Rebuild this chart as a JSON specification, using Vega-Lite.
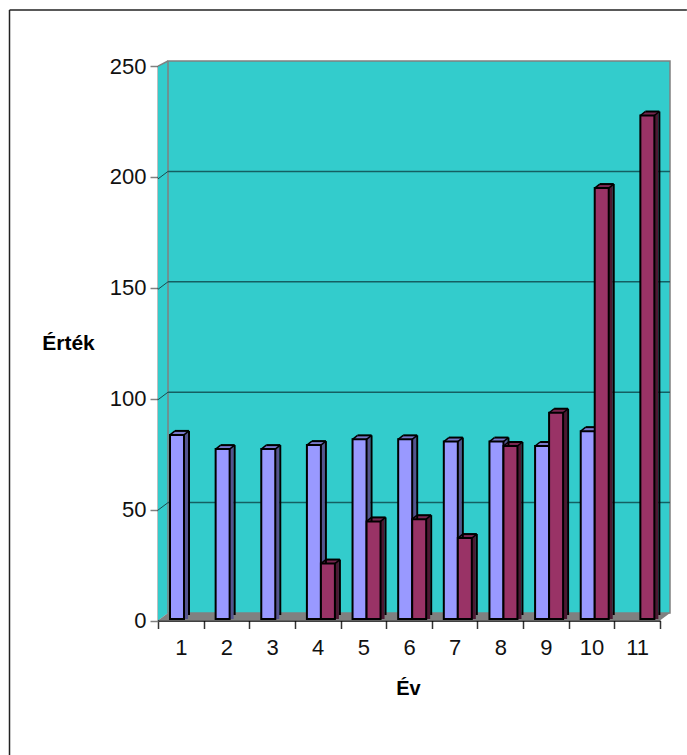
{"$schema":"https://vega.github.io/schema/vega-lite/v6.json","width":512,"height":559.5,"autosize":{"type":"none"},"padding":{"left":158,"top":61,"right":17,"bottom":134.5},"background":"#ffffff","view":{"stroke":null},"config":{"font":"Liberation Sans"},
"datasets":{"bars":[{"year":1,"series":"A","value":83},{"year":2,"series":"A","value":76.6},{"year":3,"series":"A","value":76.6},{"year":4,"series":"A","value":78.4},{"year":5,"series":"A","value":81},{"year":6,"series":"A","value":81},{"year":7,"series":"A","value":80},{"year":8,"series":"A","value":80},{"year":9,"series":"A","value":78},{"year":10,"series":"A","value":84.7},{"year":4,"series":"B","value":25},{"year":5,"series":"B","value":44},{"year":6,"series":"B","value":45},{"year":7,"series":"B","value":36.5},{"year":8,"series":"B","value":78},{"year":9,"series":"B","value":93},{"year":10,"series":"B","value":194.3},{"year":11,"series":"B","value":227}],
"walls":[{"x":-0.219,"lo":-3.4,"hi":247.7},{"x":0,"lo":0,"hi":250}],
"floor":[{"x":-0.219,"lo":-3.4,"hi":-3.4},{"x":0,"lo":-3.4,"hi":0},{"x":10.78,"lo":-3.4,"hi":0},{"x":11,"lo":0,"hi":0}],
"grid":[{"t":50,"x":0,"x2":11},{"t":100,"x":0,"x2":11},{"t":150,"x":0,"x2":11},{"t":200,"x":0,"x2":11}],
"diag":[{"t":50,"x":-0.219,"x2":0},{"t":100,"x":-0.219,"x2":0},{"t":150,"x":-0.219,"x2":0},{"t":200,"x":-0.219,"x2":0}]},
"data":{"name":"bars"},
"resolve":{"scale":{"x":"independent","y":"independent"},"axis":{"x":"independent","y":"independent"}},
"layer":[
{"encoding":{"x":{"field":"x","type":"quantitative","axis":null,"scale":{"domain":[0,11],"range":[10,512],"zero":false,"nice":false}},"y":{"field":"hi","type":"quantitative","axis":null,"scale":{"domain":[0,250],"range":[552,0],"zero":false,"nice":false}}},
"layer":[
{"data":{"values":[{"x":-3.473,"x2":11.37,"y":273.1,"y2":-64.3}]},"mark":{"type":"rule","stroke":"#222222","strokeWidth":1.5,"clip":false},"encoding":{"x2":{"field":"x2"},"y":{"field":"y","type":"quantitative"},"y2":{"field":"y"}}},
{"data":{"values":[{"x":-3.473,"x2":11.37,"y":273.1,"y2":-64.3}]},"mark":{"type":"rule","stroke":"#222222","strokeWidth":1.5,"clip":false},"encoding":{"y":{"field":"y","type":"quantitative"},"y2":{"field":"y2"}}},
{"data":{"name":"walls"},"mark":{"type":"area","fill":"#33CCCC","orient":"vertical"},"encoding":{"y2":{"field":"lo"}}},
{"data":{"values":[{"x":0,"x2":11,"lo":0,"hi":250}]},"mark":{"type":"rect","fill":"#33CCCC","stroke":"#808080","strokeWidth":1.5},"encoding":{"x2":{"field":"x2"},"y2":{"field":"lo"}}},
{"data":{"name":"walls"},"mark":{"type":"line","stroke":"#808080","strokeWidth":1.5},"encoding":{"order":{"field":"x"}}},
{"data":{"name":"floor"},"mark":{"type":"area","fill":"#808080","orient":"vertical"},"encoding":{"y2":{"field":"lo"}}},
{"data":{"name":"grid"},"mark":{"type":"rule","stroke":"#145F62","strokeWidth":1.5},"encoding":{"x2":{"field":"x2"},"y":{"field":"t","type":"quantitative"},"y2":{"field":"t"}}},
{"data":{"name":"diag"},"mark":{"type":"rule","stroke":"#1A4B4E","strokeWidth":1,"yOffset":7.5},"encoding":{"x2":{"field":"x2"},"y":{"field":"t","type":"quantitative"},"y2":{"field":"t"}}}
]},
{"mark":{"type":"point","opacity":0},"encoding":{"x":{"field":"year","type":"ordinal","title":"Év","scale":{"domain":[1,2,3,4,5,6,7,8,9,10,11],"range":[0,502],"paddingInner":0,"paddingOuter":0},"axis":{"tickBand":"extent","labelAngle":0,"labelFontSize":22,"labelColor":"#111111","labelPadding":9,"tickSize":8,"tickColor":"#333333","tickWidth":1.5,"domainColor":"#000000","domainWidth":1.5,"titleFontSize":20,"titleFontWeight":"bold","titleColor":"#000000","titleX":250,"titleY":68,"titleBaseline":"middle","titleAlign":"center","grid":false}},"y":{"field":"value","type":"quantitative","title":"Érték","scale":{"domain":[0,250],"range":[559.5,5],"nice":false},"axis":{"values":[0,50,100,150,200,250],"labelFontSize":22,"labelColor":"#111111","labelPadding":4,"tickSize":8,"tickColor":"#808080","tickWidth":1.5,"domainColor":"#000000","domainWidth":1.5,"titleFontSize":21,"titleFontWeight":"bold","titleColor":"#000000","titleAngle":0,"titleX":-90,"titleY":282,"titleBaseline":"middle","titleAlign":"center","grid":false}}}},
{"encoding":{"x":{"field":"year","type":"quantitative","axis":null,"scale":{"domain":[0.5,11.5],"range":[0,502],"nice":false,"zero":false,"padding":0}},"y":{"field":"value","type":"quantitative","axis":null,"stack":null,"scale":{"domain":[0,250],"range":[558,3.5],"nice":false}}},
"layer":[
{"mark":{"type":"bar","orient":"vertical","width":14,"xOffset":{"expr":"(datum.series==='A'?-3.82:10.18)+4"},"yOffset":-3.2,"y2Offset":-3.2},"encoding":{"color":{"condition":{"test":"datum.series==='A'","value":"#55558F"},"value":"#4D1933"}}},
{"mark":{"type":"bar","orient":"vertical","width":14,"xOffset":{"expr":"(datum.series==='A'?-3.82:10.18)+3"},"yOffset":-2.4,"y2Offset":-2.4},"encoding":{"color":{"condition":{"test":"datum.series==='A'","value":"#55558F"},"value":"#4D1933"}}},
{"mark":{"type":"bar","orient":"vertical","width":14,"xOffset":{"expr":"(datum.series==='A'?-3.82:10.18)+2"},"yOffset":-1.6,"y2Offset":-1.6},"encoding":{"color":{"condition":{"test":"datum.series==='A'","value":"#55558F"},"value":"#4D1933"}}},
{"mark":{"type":"bar","orient":"vertical","width":14,"xOffset":{"expr":"(datum.series==='A'?-3.82:10.18)+1"},"yOffset":-0.8,"y2Offset":-0.8},"encoding":{"color":{"condition":{"test":"datum.series==='A'","value":"#55558F"},"value":"#4D1933"}}},
{"mark":{"type":"rule","strokeWidth":1.2,"xOffset":{"expr":"(datum.series==='A'?-10.82:3.18)+4"},"x2Offset":{"expr":"(datum.series==='A'?-10.82:3.18)+18"},"yOffset":-3.2,"y2Offset":-3.2},"encoding":{"x2":{"field":"year"},"y2":{"field":"value"},"color":{"condition":{"test":"datum.series==='A'","value":"#7A7ACC"},"value":"#7A2952"}}},
{"mark":{"type":"rule","strokeWidth":1.2,"xOffset":{"expr":"(datum.series==='A'?-10.82:3.18)+3"},"x2Offset":{"expr":"(datum.series==='A'?-10.82:3.18)+17"},"yOffset":-2.4,"y2Offset":-2.4},"encoding":{"x2":{"field":"year"},"y2":{"field":"value"},"color":{"condition":{"test":"datum.series==='A'","value":"#7A7ACC"},"value":"#7A2952"}}},
{"mark":{"type":"rule","strokeWidth":1.2,"xOffset":{"expr":"(datum.series==='A'?-10.82:3.18)+2"},"x2Offset":{"expr":"(datum.series==='A'?-10.82:3.18)+16"},"yOffset":-1.6,"y2Offset":-1.6},"encoding":{"x2":{"field":"year"},"y2":{"field":"value"},"color":{"condition":{"test":"datum.series==='A'","value":"#7A7ACC"},"value":"#7A2952"}}},
{"mark":{"type":"rule","strokeWidth":1.2,"xOffset":{"expr":"(datum.series==='A'?-10.82:3.18)+1"},"x2Offset":{"expr":"(datum.series==='A'?-10.82:3.18)+15"},"yOffset":-0.8,"y2Offset":-0.8},"encoding":{"x2":{"field":"year"},"y2":{"field":"value"},"color":{"condition":{"test":"datum.series==='A'","value":"#7A7ACC"},"value":"#7A2952"}}},
{"mark":{"type":"rule","color":"#000000","strokeWidth":2,"xOffset":{"expr":"(datum.series==='A'?-10.82:3.18)+5"},"x2Offset":{"expr":"(datum.series==='A'?-10.82:3.18)+19"},"yOffset":-4,"y2Offset":-4},"encoding":{"x2":{"field":"year"},"y2":{"field":"value"}}},
{"mark":{"type":"rule","color":"#000000","strokeWidth":2,"xOffset":{"expr":"(datum.series==='A'?-10.82:3.18)+19"},"yOffset":-4,"y2Offset":-4},"encoding":{"y2":{"datum":0}}},
{"mark":{"type":"rule","color":"#000000","strokeWidth":1.5,"xOffset":{"expr":"(datum.series==='A'?-10.82:3.18)"},"x2Offset":{"expr":"(datum.series==='A'?-10.82:3.18)+5"},"y2Offset":-4},"encoding":{"x2":{"field":"year"},"y2":{"field":"value"}}},
{"mark":{"type":"rule","color":"#000000","strokeWidth":1.5,"xOffset":{"expr":"(datum.series==='A'?-10.82:3.18)+14"},"x2Offset":{"expr":"(datum.series==='A'?-10.82:3.18)+19"},"y2Offset":-4},"encoding":{"x2":{"field":"year"},"y2":{"field":"value"}}},
{"mark":{"type":"bar","orient":"vertical","width":14,"stroke":"#000000","strokeWidth":2,"xOffset":{"expr":"datum.series==='A'?-3.82:10.18"}},"encoding":{"fill":{"condition":{"test":"datum.series==='A'","value":"#9999FF"},"value":"#993366"}}}
]}
]}
